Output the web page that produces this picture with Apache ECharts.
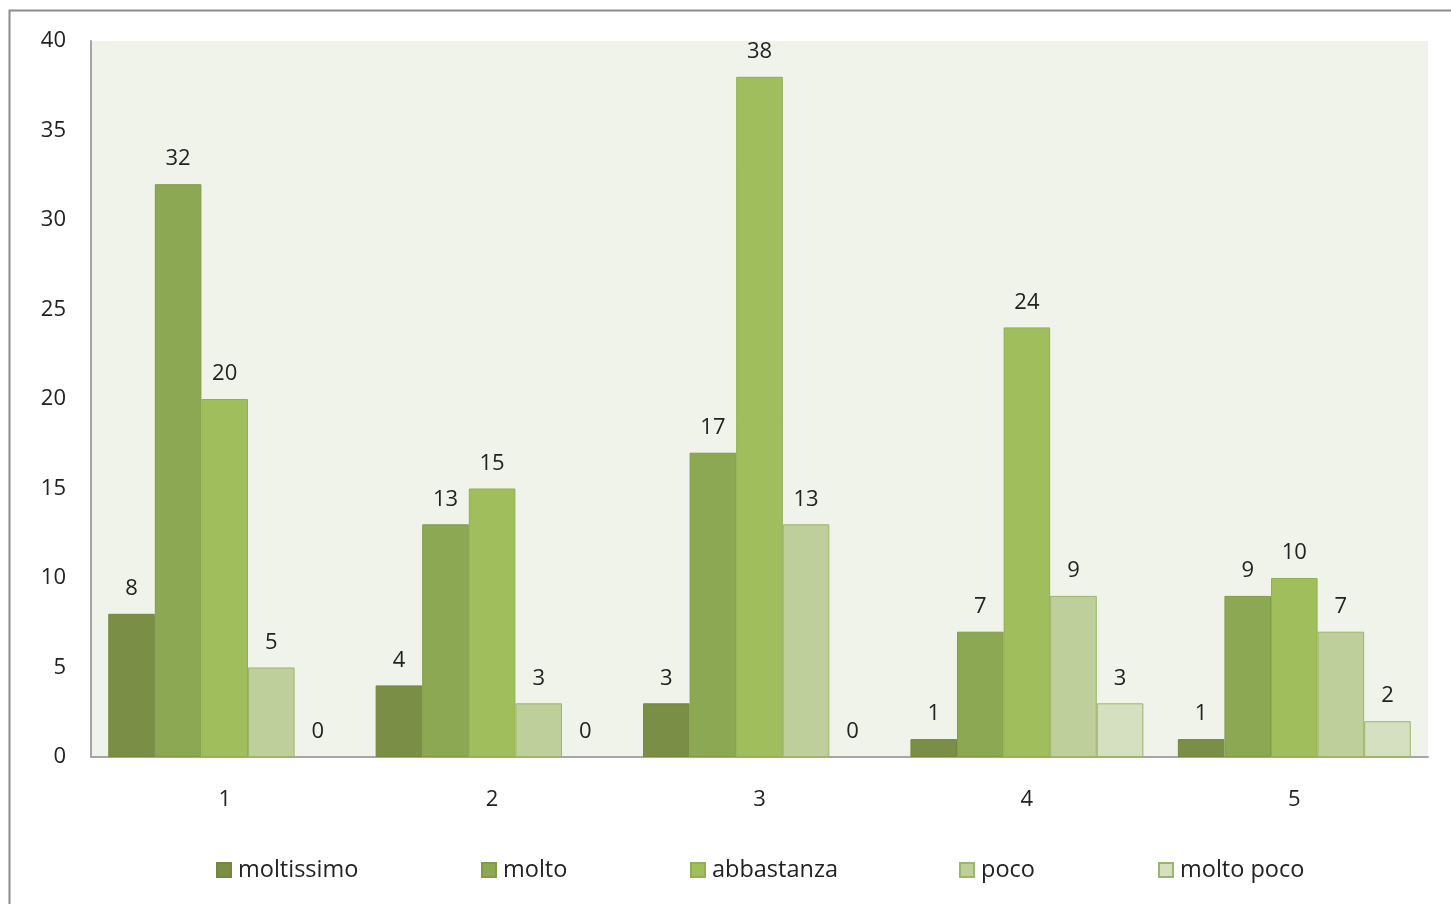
<!DOCTYPE html>
<html><head><meta charset="utf-8">
<script src="https://cdn.jsdelivr.net/npm/echarts@6/dist/echarts.min.js"></script>
<style>html,body{margin:0;padding:0;background:#fff}#c{width:1451px;height:904px}</style>
</head><body><div id="c"></div>
<script>
const categories = ['1','2','3','4','5'];
const seriesNames = ['moltissimo','molto','abbastanza','poco','molto poco'];
const moltissimo = [8,4,3,1,1];
const molto = [32,13,17,7,9];
const abbastanza = [20,15,38,24,10];
const poco = [5,3,13,9,7];
const moltoPoco = [0,0,0,3,2];
const yTicks = [0,5,10,15,20,25,30,35,40];

const values = [moltissimo, molto, abbastanza, poco, moltoPoco];
const fills = ['#7A8F45','#8DA852','#A0BF5C','#BECF9C','#D4E0C0'];
const borders = ['#73883F','#809C48','#8FB04E','#9BB56A','#9BB56A'];
const legendLeft = [216,481,690,959,1158];
const font = '"Open Sans", sans-serif';

const chart = echarts.init(document.getElementById('c'));
chart.setOption({
  animation:false,
  backgroundColor:'#fff',
  graphic:[{type:'rect',shape:{x:9.5,y:10.5,width:1460,height:920},style:{fill:'none',stroke:'#8C8C8C',lineWidth:2},silent:true,z:-10}],
  legend: seriesNames.map((n,i)=>({
    data:[n], left:legendLeft[i], top:858, padding:0, icon:'rect', itemWidth:14, itemHeight:14, itemGap:6,
    textStyle:{fontFamily:font,fontSize:23.5,color:'#222',padding:[0,0,0,2]}, selectedMode:false
  })),
  grid:{left:91,right:23,top:41,bottom:147,show:true,backgroundColor:'#F0F3EA',borderWidth:0},
  xAxis:{type:'category',data:categories,
    axisLine:{lineStyle:{color:'#A6A6A6',width:2}},axisTick:{show:false},
    axisLabel:{fontFamily:font,fontSize:22,color:'#222',margin:32}},
  yAxis:{type:'value',min:0,max:40,interval:5,
    axisLine:{show:true,lineStyle:{color:'#A6A6A6',width:2}},axisTick:{show:false},splitLine:{show:false},
    axisLabel:{fontFamily:font,fontSize:22,color:'#222',margin:25,
      formatter:v=>yTicks.includes(v)?String(v):''}},
  series: seriesNames.map((n,i)=>({
    name:n,type:'bar',
    data:values[i].map(v=>v===0?{value:v,itemStyle:{borderWidth:0}}:v),
    barGap:'0%',barCategoryGap:'12.9%',
    itemStyle:{color:fills[i],borderColor:borders[i],borderWidth:1},
    label:{show:true,position:'top',distance:14,fontFamily:font,fontSize:22,color:'#222'}
  }))
});
</script></body></html>
